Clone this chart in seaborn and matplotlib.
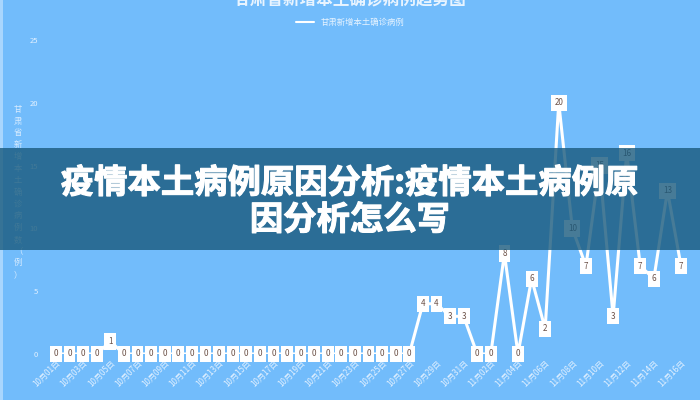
import pandas as pd
import matplotlib.pyplot as plt
import matplotlib.patheffects as pe
import seaborn as sns
from matplotlib.patches import Rectangle

# daily new local cases, 10月01日 - 11月16日
dates = pd.date_range('2021-10-01', '2021-11-16', freq='D')
cases = [0, 0, 0, 0, 1, 0, 0, 0, 0, 0,
         0, 0, 0, 0, 0, 0, 0, 0, 0, 0,
         0, 0, 0, 0, 0, 0, 0, 4, 4, 3,
         3, 0, 0, 8, 0, 6, 2, 20, 10, 7,
         15, 3, 16, 7, 6, 13, 7]
day_labels = [f'{d.month}月{d.day:02d}日' for d in dates]
y_ticks = [0, 5, 10, 15, 20, 25]

series_name = '甘肃新增本土确诊病例'
y_label = '甘肃省新增本土确诊病例数（例）'
chart_title = '甘肃省新增本土确诊病例趋势图'
overlay_title = '疫情本土病例原因分析:疫情本土病例原\n因分析怎么写'

df = pd.DataFrame({'idx': range(len(cases)), 'cases': cases})

sns.set_style('white')
plt.rcParams['font.family'] = ['Noto Sans CJK SC', 'DejaVu Sans']

bg = '#72bcfb'
fig = plt.figure(figsize=(7, 4), dpi=100, facecolor=bg)
ax = fig.add_axes([0.06, 0.115, 0.93, 0.785])
ax.set_facecolor(bg)

sns.lineplot(data=df, x='idx', y='cases', color='white', linewidth=2.2,
             ax=ax, label=series_name, legend=False)

for i, v in enumerate(cases):
    ax.text(i, v, str(v), ha='center', va='center', fontsize=5.8,
            color='#6b5046', zorder=5,
            bbox=dict(boxstyle='square,pad=0.45', fc='white', ec='none'))

ax.set_xlim(-1.03, 46.88)
ax.set_ylim(0, 25)
ax.set_yticks(y_ticks)
ax.set_yticklabels([str(t) for t in y_ticks], fontsize=5.5, color='#e3f1ff')
ax.set_xticks(range(0, len(cases), 2))
ax.set_xticklabels(day_labels[::2], rotation=45, ha='right',
                   rotation_mode='anchor', fontsize=5.8, color='#e3f1ff')
ax.tick_params(length=0, pad=3)
ax.set_xlabel('')
ax.set_ylabel('')
sns.despine(ax=ax, left=True, bottom=True)

# legend at top
leg = fig.legend(loc='center', bbox_to_anchor=(0.5, 0.945), frameon=False,
                 fontsize=6, labelcolor='#e8f4ff', handlelength=2.2)
for h in leg.get_lines():
    h.set_linewidth(1.5)

# title, cut off at top edge as in the source image
fig.text(0.5, 1.0, chart_title, ha='center', va='center', fontsize=12,
         color='#e8f4ff', fontweight='bold')

# vertical y label
fig.text(0.026, 0.52, '\n'.join(y_label), ha='center', va='center',
         fontsize=6, color='#d8ecff', linespacing=1.4)

# light strip at left edge
fig.patches.append(Rectangle((0, 0), 0.004, 1, transform=fig.transFigure,
                             fc='#a9d6fd', ec='none', zorder=0))

# dark banner with headline
fig.patches.append(Rectangle((0, 1 - 250 / 400), 1, 102 / 400,
                             transform=fig.transFigure, fc='#195a7d',
                             ec='none', alpha=0.8, zorder=10))
fig.text(0.5, 1 - 202 / 400, overlay_title, ha='center', va='center',
         fontsize=24, color='white', fontweight='heavy', linespacing=1.15,
         zorder=11,
         path_effects=[pe.withStroke(linewidth=0.8, foreground='white')])

fig.savefig('out.png', dpi=100, facecolor=bg)
